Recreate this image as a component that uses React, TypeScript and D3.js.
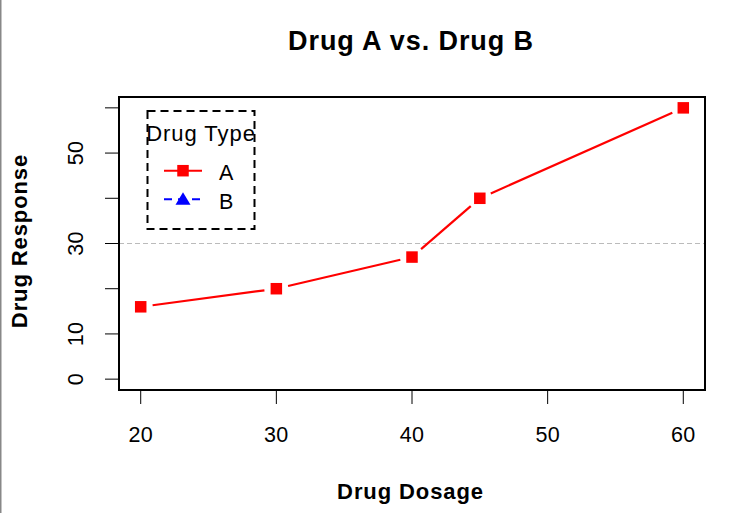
import React from "react";
import * as d3 from "d3";

const dosage = [20, 30, 40, 45, 60];
const responseA = [16, 20, 27, 40, 60];
const xTicks = [20, 30, 40, 50, 60];
const yTicks = [0, 10, 20, 30, 40, 50, 60];
const yLabelTicks = [0, 10, 30, 50];
const legendItems = [
  { label: "A", color: "red", dash: "none", shape: "square" },
  { label: "B", color: "blue", dash: "8,6", shape: "triangle" },
];

const W = 746, H = 513;
const L = 119, R = 705, T = 97, B = 390;
const font = "'Liberation Sans', Arial, sans-serif";

export default function App() {
  const x = d3.scaleLinear().domain([18.4, 61.6]).range([L, R]);
  const y = d3.scaleLinear().domain([-2.4, 62.4]).range([B, T]);
  const pts = dosage.map((d, i) => [x(d), y(responseA[i])] as [number, number]);
  const gap = 12;
  const segs: [number, number, number, number][] = [];
  for (let i = 0; i < pts.length - 1; i++) {
    const [x0, y0] = pts[i];
    const [x1, y1] = pts[i + 1];
    const len = Math.hypot(x1 - x0, y1 - y0);
    if (len <= 2 * gap) continue;
    const ux = (x1 - x0) / len, uy = (y1 - y0) / len;
    segs.push([x0 + ux * gap, y0 + uy * gap, x1 - ux * gap, y1 - uy * gap]);
  }
  const sq = 11.5;
  return (
    <svg width={W} height={H} style={{ position: "fixed", left: 0, top: 0, background: "white" }} fontFamily={font}>
      <rect x={0} y={0} width={W} height={H} fill="white" />
      <rect x={0} y={0} width={1.5} height={H} fill="#888" />
      <text x={411} y={50} textAnchor="middle" fontSize={27} fontWeight="bold" letterSpacing={0.9}>Drug A vs. Drug B</text>
      <line x1={L} x2={R} y1={y(30)} y2={y(30)} stroke="#bbb" strokeDasharray="5,3" strokeWidth={1} />
      {segs.map((s, i) => (
        <line key={i} x1={s[0]} y1={s[1]} x2={s[2]} y2={s[3]} stroke="red" strokeWidth={2.2} />
      ))}
      {pts.map((p, i) => (
        <rect key={i} x={p[0] - sq / 2} y={p[1] - sq / 2} width={sq} height={sq} fill="red" />
      ))}
      <rect x={L} y={T} width={R - L} height={B - T} fill="none" stroke="black" strokeWidth={2} />
      {xTicks.map((t) => (
        <g key={t}>
          <line x1={x(t)} x2={x(t)} y1={B} y2={B + 14} stroke="black" strokeWidth={1} />
          <text x={x(t)} y={441.5} textAnchor="middle" fontSize={21.5} letterSpacing={0.3}>{t}</text>
        </g>
      ))}
      {yTicks.map((t) => (
        <line key={t} x1={L - 14} x2={L} y1={y(t)} y2={y(t)} stroke="black" strokeWidth={1} />
      ))}
      {yLabelTicks.map((t) => (
        <text key={t} transform={`translate(83,${y(t)}) rotate(-90)`} textAnchor="middle" fontSize={21.5} letterSpacing={0.3}>{t}</text>
      ))}
      <text x={410.5} y={499.3} textAnchor="middle" fontSize={22} fontWeight="bold" letterSpacing={0.9}>Drug Dosage</text>
      <text transform={`translate(27,241) rotate(-90)`} textAnchor="middle" fontSize={22} fontWeight="bold" letterSpacing={0.9}>Drug Response</text>
      <rect x={147.5} y={111} width={107} height={118} fill="white" stroke="black" strokeWidth={2} strokeDasharray="8,5" />
      <text x={201} y={140.7} textAnchor="middle" fontSize={22} letterSpacing={0.95}>Drug Type</text>
      {legendItems.map((it, i) => {
        const ly = 170.7 + i * 28.6;
        return (
          <g key={it.label}>
            <line x1={164} x2={202} y1={ly} y2={ly} stroke={it.color} strokeWidth={2} strokeDasharray={it.dash} />
            {it.shape === "square" ? (
              <rect x={183 - 5.75} y={ly - 5.75} width={11.5} height={11.5} fill={it.color} />
            ) : (
              <path d={`M183,${ly - 7} L190.5,${ly + 5.5} L175.5,${ly + 5.5} Z`} fill={it.color} />
            )}
            <text x={219} y={ly + 9.5} fontSize={21.5}>{it.label}</text>
          </g>
        );
      })}
    </svg>
  );
}
